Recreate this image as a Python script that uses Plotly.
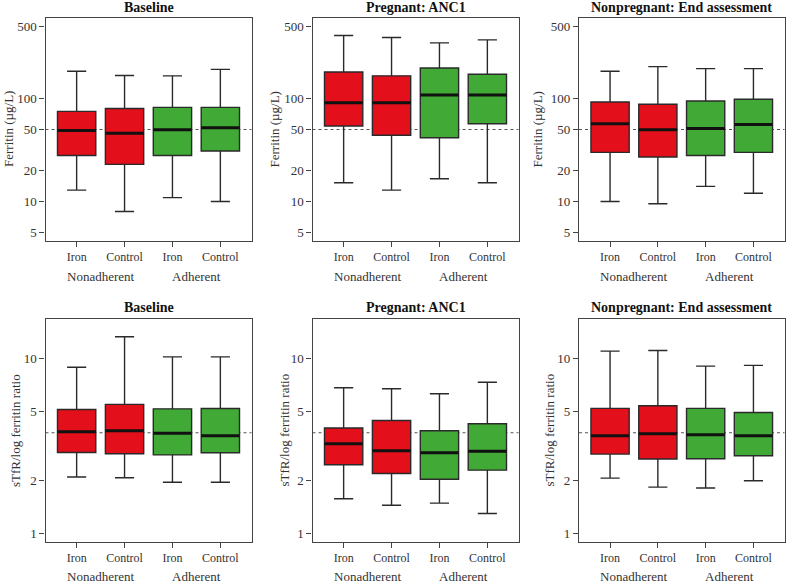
import math
import plotly.graph_objects as go

# ---------------- data ----------------
categories = ["Iron", "Control", "Iron", "Control"]
adherence_groups = ["Nonadherent", "Adherent"]
panel_titles = ["Baseline", "Pregnant: ANC1", "Nonpregnant: End assessment"]

# Ferritin (µg/L): lower whisker, Q1, median, Q3, upper whisker
fer_base_low = [12.9, 8.0, 10.9, 10.0]
fer_base_q1 = [28.0, 22.9, 28.0, 30.9]
fer_base_med = [49.0, 46.0, 49.8, 52.0]
fer_base_q3 = [75.0, 80.0, 82.0, 82.0]
fer_base_high = [184, 167, 166, 192]

fer_anc_low = [15.2, 12.9, 16.6, 15.2]
fer_anc_q1 = [54.0, 44.0, 41.6, 56.9]
fer_anc_med = [91.0, 91.0, 108.0, 108.0]
fer_anc_q3 = [181, 166, 198, 172]
fer_anc_high = [409, 391, 347, 371]

fer_end_low = [10.0, 9.5, 14.0, 12.0]
fer_end_q1 = [30.0, 27.0, 28.0, 30.0]
fer_end_med = [57.0, 49.8, 51.0, 56.0]
fer_end_q3 = [92.6, 88.0, 94.7, 98.4]
fer_end_high = [184, 204, 195, 195]

# sTfR / log ferritin ratio
rat_base_low = [2.10, 2.08, 1.96, 1.96]
rat_base_q1 = [2.90, 2.85, 2.81, 2.89]
rat_base_med = [3.81, 3.86, 3.73, 3.61]
rat_base_q3 = [5.10, 5.46, 5.15, 5.17]
rat_base_high = [8.9, 13.3, 10.2, 10.2]

rat_anc_low = [1.58, 1.45, 1.49, 1.30]
rat_anc_q1 = [2.47, 2.20, 2.04, 2.30]
rat_anc_med = [3.25, 2.97, 2.89, 2.95]
rat_anc_q3 = [4.00, 4.42, 3.86, 4.23]
rat_anc_high = [6.79, 6.70, 6.28, 7.30]

rat_end_low = [2.07, 1.84, 1.82, 2.00]
rat_end_q1 = [2.84, 2.66, 2.67, 2.78]
rat_end_med = [3.61, 3.71, 3.66, 3.61]
rat_end_q3 = [5.18, 5.36, 5.18, 4.91]
rat_end_high = [11.0, 11.1, 9.03, 9.12]

ferritin_ref = 50
ratio_ref = 3.76

fer_ticks = [5, 10, 20, 50, 100, 500]
rat_ticks = [1, 2, 5, 10]

# ---------------- styling ----------------
W, H = 786, 584
RED = "#E30F1A"
GREEN = "#41A935"
OUTLINE = "#2a2a2a"
FRAME = "#444444"
FONT = "Liberation Serif"
positions = [1, 2, 3, 4]
box_w = 0.8

panels = [
    (fer_base_low, fer_base_q1, fer_base_med, fer_base_q3, fer_base_high),
    (fer_anc_low, fer_anc_q1, fer_anc_med, fer_anc_q3, fer_anc_high),
    (fer_end_low, fer_end_q1, fer_end_med, fer_end_q3, fer_end_high),
    (rat_base_low, rat_base_q1, rat_base_med, rat_base_q3, rat_base_high),
    (rat_anc_low, rat_anc_q1, rat_anc_med, rat_anc_q3, rat_anc_high),
    (rat_end_low, rat_end_q1, rat_end_med, rat_end_q3, rat_end_high),
]

# pixel frames in the page: (left, right), (top, bottom)
col_x = [(45.5, 251.5), (312.5, 518.5), (579.0, 784.5)]
row_y = [(18.3, 240.7), (319.3, 541.7)]
title_y = [7.5, 307.5]
group_y = [276.0, 576.0]
ytitle_x = [[8.5, 274.0, 537.0], [15.5, 284.0, 549.0]]


def px(x):
    return x / W


def py(y):
    return 1 - y / H


fig = go.Figure()

for i, (low, q1, med, q3, high) in enumerate(panels):
    r, c = divmod(i, 3)
    n = i + 1
    xa = "x" if n == 1 else f"x{n}"
    ya = "y" if n == 1 else f"y{n}"
    for idx, color in ((slice(0, 2), RED), (slice(2, 4), GREEN)):
        fig.add_trace(go.Box(
            x=positions[idx], q1=q1[idx], median=med[idx], q3=q3[idx],
            lowerfence=low[idx], upperfence=high[idx],
            width=box_w, whiskerwidth=0.5, boxpoints=False,
            fillcolor=color, line=dict(color=OUTLINE, width=1.4),
            hoverinfo="skip", showlegend=False, xaxis=xa, yaxis=ya,
        ))
    # thick median bars
    mx, my = [], []
    for p, m in zip(positions, med):
        mx += [p - box_w / 2, p + box_w / 2, None]
        my += [m, m, None]
    fig.add_trace(go.Scatter(
        x=mx, y=my, mode="lines", line=dict(color="#111111", width=3),
        hoverinfo="skip", showlegend=False, xaxis=xa, yaxis=ya,
    ))

    ref = ferritin_ref if r == 0 else ratio_ref
    fig.add_shape(type="line", xref=f"{xa} domain", yref=ya,
                  x0=0, x1=1, y0=ref, y1=ref, layer="below",
                  line=dict(color="#555555", width=1.2, dash="dot"))

    x0p, x1p = col_x[c]
    y0p, y1p = row_y[r]
    if r == 0:
        yr = [math.log10(5) - 0.08, math.log10(500) + 0.08]
        tv = fer_ticks
        ytitle = "Ferritin (µg/L)"
    else:
        yr = [math.log10(1) - 0.047, math.log10(15) + 0.047]
        tv = rat_ticks
        ytitle = "sTfR/log ferritin ratio"

    axis_common = dict(showline=True, linecolor=FRAME, linewidth=1.4, mirror=True,
                       ticks="outside", ticklen=5, tickcolor=FRAME, tickwidth=1.2,
                       showgrid=False, zeroline=False)
    fig.layout[f"xaxis{'' if n == 1 else n}"] = dict(
        domain=[px(x0p), px(x1p)], anchor=ya, range=[0.35, 4.65],
        tickvals=positions, ticktext=categories,
        tickfont=dict(family=FONT, size=12, color="#333333"), **axis_common)
    fig.layout[f"yaxis{'' if n == 1 else n}"] = dict(
        domain=[py(y1p), py(y0p)], anchor=xa, type="log", range=yr,
        tickvals=tv, ticktext=[str(t) for t in tv],
        tickfont=dict(family=FONT, size=13, color="#333333"), **axis_common)

    # panel title
    fig.add_annotation(text=f"<b>{panel_titles[c]}</b>", xref="paper", yref="paper",
                       x=px((x0p + x1p) / 2), y=py(title_y[r]),
                       showarrow=False, xanchor="center", yanchor="middle",
                       font=dict(family=FONT, size=14, color="#111111"))
    # y axis title
    fig.add_annotation(text=ytitle, xref="paper", yref="paper", textangle=-90,
                       x=px(ytitle_x[r][c]), y=py((y0p + y1p) / 2),
                       showarrow=False, xanchor="center", yanchor="middle",
                       font=dict(family=FONT, size=13, color="#333333"))
    # adherence group labels
    for gx, gl in zip([1.5, 3.5], adherence_groups):
        fig.add_annotation(text=gl, xref=xa, yref="paper", x=gx, y=py(group_y[r]),
                           showarrow=False, xanchor="center", yanchor="middle",
                           font=dict(family=FONT, size=13, color="#333333"))

fig.update_layout(
    width=W, height=H, margin=dict(l=0, r=0, t=0, b=0),
    paper_bgcolor="white", plot_bgcolor="white",
    boxmode="overlay", font=dict(family=FONT),
)

fig.write_html("out.html", config={"displayModeBar": False},
               post_script="document.body.style.margin='0';document.body.style.padding='0';")
